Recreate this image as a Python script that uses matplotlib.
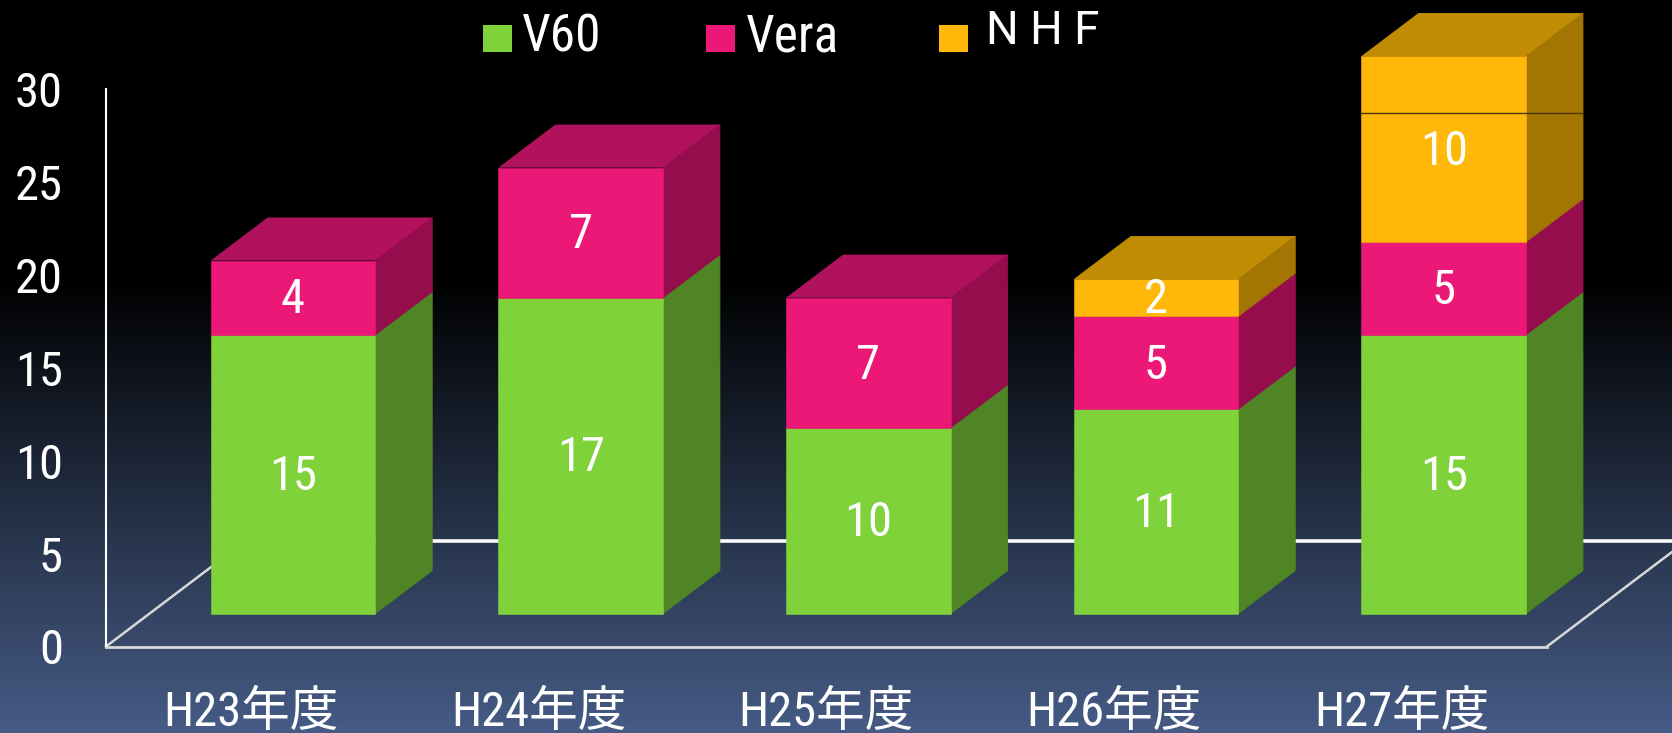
import numpy as np
import matplotlib
matplotlib.use("Agg")
import matplotlib.pyplot as plt
from matplotlib.patches import Polygon, Rectangle

plt.rcParams['font.family'] = ['Roboto Condensed', 'Noto Sans CJK JP', 'DejaVu Sans']
plt.rcParams['font.weight'] = 400

categories = ['H23年度', 'H24年度', 'H25年度', 'H26年度', 'H27年度']
v60 = [15, 17, 10, 11, 15]
vera = [4, 7, 7, 5, 5]
nhf = [0, 0, 0, 2, 10]
y_ticks = [0, 5, 10, 15, 20, 25, 30]

series = [('V60', v60, '#80D23A', '#4F8524', '#5E9A2A'),
          ('Vera', vera, '#EC1878', '#960D4E', '#B0125C'),
          ('N H F', nhf, '#FFB70A', '#A37603', '#C08C03')]

W, H = 1672, 733
fig = plt.figure(figsize=(W / 100, H / 100), dpi=100, facecolor='black')

# background gradient
bg = fig.add_axes([0, 0, 1, 1], zorder=0)
bg.axis('off')
grad = np.clip((np.linspace(0, 1, 733) - 0.38) / 0.62, 0, 1)[:, None, None]
top_c = np.array([0, 0, 0])[None, None, :]
bot_c = np.array([0x46, 0x5C, 0x86])[None, None, :] / 255
bg.imshow(grad * bot_c + (1 - grad) * top_c, aspect='auto', extent=(0, 1, 0, 1))

# plot area: x axis box runs px 106..1547, y px 646.5..89
ax = fig.add_axes([106 / W, (H - 646.5) / H, (1547 - 106) / W, (646.5 - 89) / H], zorder=1)
ax.patch.set_alpha(0)
ax.set_xlim(-0.504, 4.505)
ax.set_ylim(0, 30)

for s in ('top', 'right'):
    ax.spines[s].set_visible(False)
ax.spines['left'].set_color('white')
ax.spines['left'].set_linewidth(1.5)
ax.spines['bottom'].set_color('#D8D8D8')
ax.spines['bottom'].set_linewidth(2)
ax.set_yticks(y_ticks)
ax.set_xticks(range(len(categories)))
ax.set_xticklabels(categories)
ax.tick_params(axis='both', length=0, colors='white', labelsize=35)
ax.tick_params(axis='y', pad=31)
ax.tick_params(axis='x', pad=31)

# 3-D look, in data units
bar_w = 0.572
x_in = 0.146       # front face shift from the tick
y_in = 1.77        # front face lift from the floor
dx, dy = 0.198, 2.316
floor_dx, floor_dy = 0.487, 5.7

floor = dict(color='#D8D8D8', lw=1.8, clip_on=False, zorder=1)
ax.plot([-0.504, -0.504 + floor_dx], [0, floor_dy], **floor)
ax.plot([4.505, 4.505 + floor_dx], [0, floor_dy], **floor)
ax.plot([-0.504 + floor_dx, 4.505 + floor_dx], [floor_dy, floor_dy],
        color='white', lw=2.6, clip_on=False, zorder=1)

n = len(categories)
base = np.zeros(n)
for name, vals, front, side, top in series:
    for i, v in enumerate(vals):
        if v == 0:
            continue
        x0 = i + x_in - bar_w / 2
        x1 = x0 + bar_w
        y0 = base[i] + y_in
        y1 = y0 + v
        z = 3 + base[i] / 100
        ax.add_patch(Polygon([(x1, y0), (x1 + dx, y0 + dy), (x1 + dx, y1 + dy), (x1, y1)],
                             fc=side, ec=side, lw=0.6, clip_on=False, zorder=z))
        ax.add_patch(Rectangle((x0, y0), bar_w, v, fc=front, ec=front, lw=0.4,
                               clip_on=False, zorder=z))
        is_top = base[i] + v == v60[i] + vera[i] + nhf[i]
        if is_top:
            ax.add_patch(Polygon([(x0, y1), (x0 + dx, y1 + dy), (x1 + dx, y1 + dy), (x1, y1)],
                                 fc=top, ec='none', clip_on=False, zorder=z))
        ax.text(i + x_in, y0 + v / 2 - 0.15, str(v), color='white', fontsize=35,
                ha='center', va='center', zorder=6)
    base += np.array(vals)

# thin dark seam across the tallest bar
ax.plot([4 + x_in - bar_w / 2, 4 + x_in + bar_w / 2 + dx], [28.7, 28.7],
        color='#4A3600', lw=1, clip_on=False, zorder=5)

# legend
lax = fig.add_axes([0, 0, 1, 1], zorder=2)
lax.axis('off')
lax.set_xlim(0, W)
lax.set_ylim(H, 0)
swatch_x = [483, 706, 939]
text_x = [522, 746, 986]
text_y = [38, 38, 31]
for (name, _, front, _, _), sx, tx, ty in zip(series, swatch_x, text_x, text_y):
    lax.add_patch(Rectangle((sx, 25), 29, 27, fc=front, ec='none'))
    if name == 'N H F':
        lax.text(tx, ty, name, color='white', ha='left', va='center', fontsize=33,
                 family=['Roboto', 'DejaVu Sans'])
    else:
        lax.text(tx, ty, name, color='white', ha='left', va='center', fontsize=37)

fig.savefig('out.png', dpi=100, facecolor='black')
